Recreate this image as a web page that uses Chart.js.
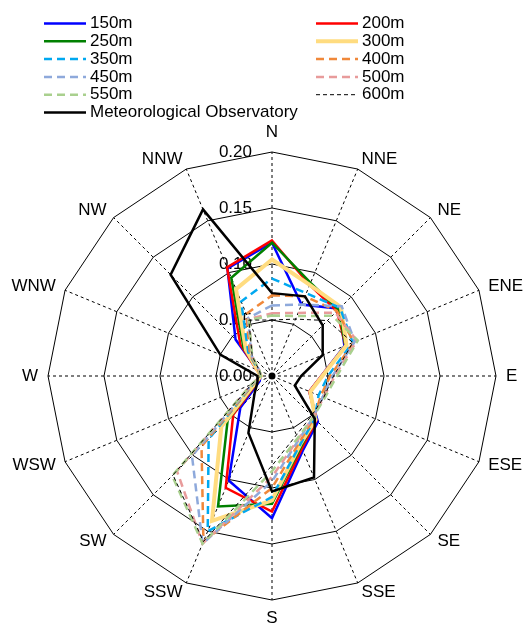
<!DOCTYPE html>
<html>
<head>
<meta charset="utf-8">
<script src="https://cdn.jsdelivr.net/npm/chart.js@4"></script>
<style>
  body { margin: 0; background: #fff; }
</style>
</head>
<body>
<canvas id="myChart" width="525" height="625"></canvas>
<script>
// wind direction frequency, one value per direction (N clockwise)
const directions = ['N', 'NNE', 'NE', 'ENE', 'E', 'ESE', 'SE', 'SSE', 'S', 'SSW', 'SW', 'WSW', 'W', 'WNW', 'NW', 'NNW'];
const tickValues = [0, 0.05, 0.10, 0.15, 0.20];

const h150 = [0.119, 0.069, 0.085, 0.070, 0.044, 0.036, 0.058, 0.072, 0.127, 0.101, 0.040, 0.012, 0.010, 0.014, 0.046, 0.104];
const h200 = [0.121, 0.088, 0.082, 0.071, 0.044, 0.036, 0.056, 0.070, 0.121, 0.108, 0.049, 0.014, 0.010, 0.015, 0.040, 0.105];
const h250 = [0.119, 0.090, 0.084, 0.071, 0.045, 0.037, 0.055, 0.068, 0.114, 0.126, 0.056, 0.015, 0.010, 0.014, 0.036, 0.095];
const h300 = [0.104, 0.088, 0.087, 0.072, 0.045, 0.037, 0.055, 0.066, 0.111, 0.140, 0.064, 0.016, 0.010, 0.014, 0.033, 0.084];
const h350 = [0.087, 0.080, 0.086, 0.078, 0.050, 0.045, 0.054, 0.066, 0.108, 0.150, 0.080, 0.018, 0.010, 0.013, 0.030, 0.072];
const h400 = [0.072, 0.077, 0.082, 0.079, 0.052, 0.047, 0.053, 0.064, 0.100, 0.160, 0.089, 0.018, 0.010, 0.013, 0.028, 0.060];
const h450 = [0.063, 0.069, 0.088, 0.080, 0.054, 0.049, 0.052, 0.062, 0.094, 0.162, 0.101, 0.019, 0.010, 0.012, 0.026, 0.056];
const h500 = [0.056, 0.061, 0.080, 0.082, 0.056, 0.050, 0.052, 0.061, 0.090, 0.162, 0.120, 0.020, 0.010, 0.012, 0.025, 0.055];
const h550 = [0.054, 0.058, 0.076, 0.083, 0.058, 0.051, 0.052, 0.060, 0.085, 0.162, 0.126, 0.020, 0.010, 0.012, 0.025, 0.054];
const h600 = [0.050, 0.055, 0.070, 0.078, 0.055, 0.050, 0.050, 0.057, 0.080, 0.160, 0.125, 0.020, 0.010, 0.012, 0.025, 0.054];
const observatory = [0.074, 0.077, 0.064, 0.049, 0.026, 0.022, 0.054, 0.098, 0.103, 0.055, 0.022, 0.014, 0.013, 0.050, 0.128, 0.161];

const FONT = '17px "Liberation Sans", Arial, sans-serif';

function line(label, values, color, width, dash) {
  return {
    label: label,
    data: values,
    borderColor: color,
    backgroundColor: 'transparent',
    borderWidth: width,
    borderDash: dash || [],
    fill: false,
    pointRadius: 0,
    tension: 0,
  };
}

const data = {
  labels: directions,
  datasets: [
    line('150m', h150, '#0000FF', 2.5),
    line('200m', h200, '#FF0000', 2.5),
    line('250m', h250, '#008000', 2.5),
    line('300m', h300, '#FFDC80', 4),
    line('350m', h350, '#00A8F0', 2.5, [8, 5]),
    line('400m', h400, '#F0883A', 2.5, [8, 5]),
    line('450m', h450, '#8EA9DB', 2.5, [8, 5]),
    line('500m', h500, '#E89B9B', 2.5, [8, 5]),
    line('550m', h550, '#A9D08E', 2.5, [8, 5]),
    line('600m', h600, '#000000', 1, [4, 3]),
    line('Meteorological Observatory', observatory, '#000000', 2.5),
  ]
};
// later series drawn on top
data.datasets.forEach((ds, i) => { ds.order = data.datasets.length - i; });

// tick values, direction names and the two-column legend
const labelPlugin = {
  id: 'labelPlugin',
  beforeDatasetsDraw(chart) {
    const r = chart.scales.r;
    const ctx = chart.ctx;
    ctx.save();
    // centre dot where the spokes meet
    ctx.fillStyle = '#000';
    ctx.beginPath();
    ctx.arc(r.xCenter, r.yCenter, 3.5, 0, Math.PI * 2);
    ctx.fill();

    ctx.font = FONT;
    ctx.textBaseline = 'middle';
    ctx.textAlign = 'right';
    tickValues.forEach(v => {
      const d = r.getDistanceFromCenterForValue(v);
      ctx.fillText(v.toFixed(2), r.xCenter - 20, r.yCenter - d);
    });
    directions.forEach((name, i) => {
      const p = r.getPointPosition(i, r.drawingArea + 10);
      const s = Math.sin(r.getIndexAngle(i));
      let y = p.y;
      if (Math.abs(s) < 0.01) {
        ctx.textAlign = 'center';
        y = p.y < r.yCenter ? p.y - 10 : p.y + 8;
      } else {
        ctx.textAlign = s > 0 ? 'left' : 'right';
      }
      ctx.fillText(name, p.x, y);
    });
    ctx.restore();
  },
  afterDraw(chart) {
    const ctx = chart.ctx;
    ctx.save();
    ctx.font = FONT;
    ctx.textBaseline = 'middle';
    ctx.textAlign = 'left';
    chart.data.datasets.forEach((ds, i) => {
      const x = i % 2 === 0 ? 44 : 316;
      const y = 23.5 + Math.floor(i / 2) * 17.8;
      ctx.beginPath();
      ctx.strokeStyle = ds.borderColor;
      ctx.lineWidth = ds.borderWidth;
      ctx.setLineDash(ds.borderDash);
      ctx.moveTo(x, y);
      ctx.lineTo(x + 42, y);
      ctx.stroke();
      ctx.setLineDash([]);
      ctx.fillStyle = '#000';
      ctx.fillText(ds.label, x + 46, y);
    });
    ctx.restore();
  }
};

const config = {
  type: 'radar',
  data,
  options: {
    responsive: false,
    animation: false,
    layout: { padding: { left: 48, right: 29, top: 152, bottom: 25 } },
    scales: {
      r: {
        min: 0,
        max: 0.2,
        ticks: { stepSize: 0.05, display: false },
        grid: { color: '#000', lineWidth: 1 },
        angleLines: { color: '#000', lineWidth: 1, borderDash: [3, 3] },
        pointLabels: { display: false },
      }
    },
    plugins: {
      legend: { display: false },
      tooltip: { enabled: false }
    }
  },
  plugins: [labelPlugin]
};

const myChart = new Chart(document.getElementById('myChart'), config);
</script>
</body>
</html>
